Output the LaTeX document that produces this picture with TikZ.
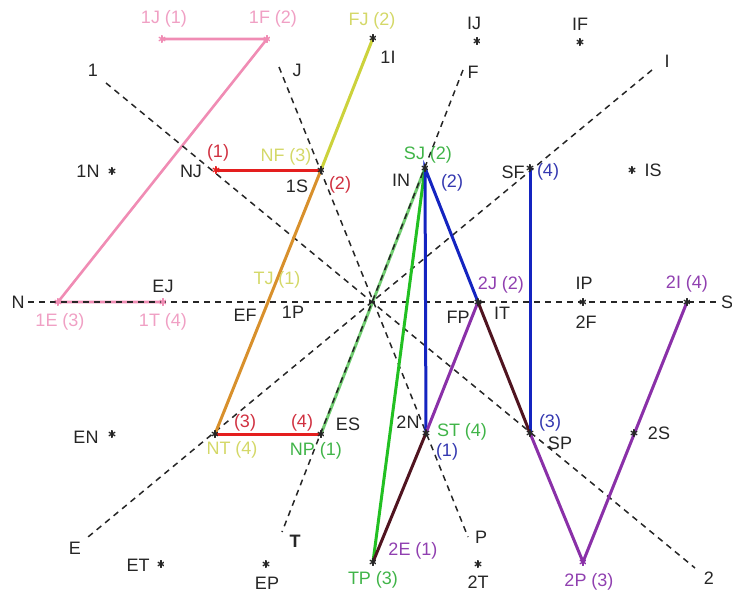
\documentclass[tikz,border=0pt]{standalone}
\usepackage{fontspec}
\setmainfont{Liberation Sans}
\definecolor{cpink}{HTML}{F08CB4}
\definecolor{cpinkt}{HTML}{F0A0C4}
\definecolor{cyel}{HTML}{CCD23C}
\definecolor{cyelt}{HTML}{D4D868}
\definecolor{corange}{HTML}{D8902C}
\definecolor{cred}{HTML}{E41E1E}
\definecolor{credt}{HTML}{D03040}
\definecolor{cgreen}{HTML}{22C022}
\definecolor{cgreenl}{HTML}{70CC70}
\definecolor{cgreent}{HTML}{40B448}
\definecolor{cblue}{HTML}{1424C0}
\definecolor{cbluet}{HTML}{3438B0}
\definecolor{cpurple}{HTML}{8A30A8}
\definecolor{cpurplet}{HTML}{9040B0}
\definecolor{cmaroon}{HTML}{501420}
\begin{document}
\begin{tikzpicture}[x=1pt,y=-1pt,
  guide/.style={draw=black!85, dash pattern=on 6pt off 5pt, line width=1.5pt},
  lbl/.style={font=\fontsize{18}{20}\selectfont, inner sep=0pt, text=black!85},
  pth/.style={line width=3pt},
  ast/.style={circle, inner sep=0pt, minimum size=8pt,
    path picture={\foreach \a in {90,30,150}
      \draw[line width=1.3pt, #1] (path picture bounding box.center) ++(\a:4pt) -- ++(\a+180:8pt);}},
  ast/.default={black!85}]
\useasboundingbox (0,0) rectangle (732,597);
% guide end points
\coordinate (gN) at (28,302);  \coordinate (gS) at (718,302);
\coordinate (g1) at (106,83);  \coordinate (g2) at (695,568);
\coordinate (gJ) at (279,67);  \coordinate (gP) at (468,537);
\coordinate (gF) at (463,70);  \coordinate (gT) at (282,532);
\coordinate (gI) at (652,70);  \coordinate (gE) at (88,537);
% path points
\coordinate (p1J) at (162,39);  \coordinate (p1F) at (267,39);
\coordinate (p1E) at (58,302);  \coordinate (p1T) at (163,302);
\coordinate (pTJ) at (267,302); \coordinate (pFJ) at (373,38);
\coordinate (pNF) at (321,170); \coordinate (pNT) at (215,434);
\coordinate (pNJ) at (216,170); \coordinate (pNP) at (321,434);
\coordinate (pSJ) at (425,168); \coordinate (pTP) at (373,562);
\coordinate (pST) at (426,433); \coordinate (pSP) at (530,433);
\coordinate (pSF) at (530,168); \coordinate (p2J) at (478,302);
\coordinate (p2P) at (583,562); \coordinate (p2I) at (687,302);
% pink path
\draw[pth, cpink, line width=2.6pt] (p1J) -- (p1F) -- (p1E) -- (p1T);
% green on guide
\draw[pth, cgreenl] (pNP) -- (pSJ);
% guides
\draw[guide] (gN) -- (gS);
\draw[guide] (g1) -- (g2);
\draw[guide] (gJ) -- (gP);
\draw[guide] (gF) -- (gT);
\draw[guide] (gI) -- (gE);
% yellow / red
\draw[pth, cyel] (pFJ) -- (pNF);
\draw[pth, corange] (pNF) -- (pNT);
\draw[pth, cred] (pNJ) -- (pNF);
\draw[pth, cred] (pNT) -- (pNP);
% green
\draw[pth, cgreen] (pSJ) -- (pTP);
\draw[pth, cmaroon] (pTP) -- (pST);
% blue
\draw[pth, cblue] (pST) -- (pSJ) -- (p2J);
\draw[pth, cmaroon] (p2J) -- (pSP);
\draw[pth, cblue] (pSP) -- (pSF);
% purple
\draw[pth, cpurple] (pST) -- (p2J);
\draw[pth, cpurple] (pSP) -- (p2P) -- (p2I);
% star markers
\node[ast=cpink] (m1J) at (p1J) {};
\node[ast=cpink] (m1F) at (p1F) {};
\node[ast=cpink] (m1E) at (p1E) {};
\node[ast=cpink] (m1T) at (p1T) {};
\node[ast] (mFJ) at (pFJ) {};
\node[ast] (mNF) at (pNF) {};
\node[ast] (mNT) at (pNT) {};
\node[ast=cred] (mNJ) at (pNJ) {};
\node[ast] (mNP) at (pNP) {};
\node[ast] (mSJ) at (pSJ) {};
\node[ast] (mTP) at (pTP) {};
\node[ast] (mST) at (pST) {};
\node[ast] (mSP) at (pSP) {};
\node[ast] (mSF) at (pSF) {};
\node[ast] (m2J) at (p2J) {};
\node[ast=cpurple] (m2P) at (p2P) {};
\node[ast] (m2I) at (p2I) {};
\node[ast] (s1N) at (112,171) {};
\node[ast] (sIJ) at (477,41) {};
\node[ast] (sIF) at (580,42) {};
\node[ast] (sIS) at (632,170) {};
\node[ast] (sIP) at (583,302) {};
\node[ast] (sEN) at (112,434) {};
\node[ast] (sET) at (161,564) {};
\node[ast] (sEP) at (266,564) {};
\node[ast] (s2T) at (478,564) {};
\node[ast] (s2S) at (634,433) {};
% pink labels
\node[lbl, text=cpinkt] (l1J) at (164,19) {1J (1)};
\node[lbl, text=cpinkt] (l1F) at (273,19) {1F (2)};
\node[lbl, text=cpinkt] (l1E) at (60,322) {1E (3)};
\node[lbl, text=cpinkt] (l1T) at (163,322) {1T (4)};
% yellow labels
\node[lbl, text=cyelt] (lFJ) at (372,21) {FJ (2)};
\node[lbl, text=cyelt] (lNF) at (286,157) {NF (3)};
\node[lbl, text=cyelt] (lTJ) at (277,280) {TJ (1)};
\node[lbl, text=cyelt] (lNT) at (232,450) {NT (4)};
% red labels
\node[lbl, text=credt] (r1) at (218,153) {(1)};
\node[lbl, text=credt] (r2) at (340,185) {(2)};
\node[lbl, text=credt] (r3) at (245,423) {(3)};
\node[lbl, text=credt] (r4) at (302,423) {(4)};
% green labels
\node[lbl, text=cgreent] (lSJ) at (428,155) {SJ (2)};
\node[lbl, text=cgreent] (lNP) at (316,451) {NP (1)};
\node[lbl, text=cgreent] (lST) at (462,432) {ST (4)};
\node[lbl, text=cgreent] (lTP) at (373,580) {TP (3)};
% blue labels
\node[lbl, text=cbluet] (b2) at (452,183) {(2)};
\node[lbl, text=cbluet] (b4) at (548,172) {(4)};
\node[lbl, text=cbluet] (b3) at (550,423) {(3)};
\node[lbl, text=cbluet] (b1) at (447,452) {(1)};
% purple labels
\node[lbl, text=cpurplet] (l2J) at (501,285) {2J (2)};
\node[lbl, text=cpurplet] (l2I) at (687,284) {2I (4)};
\node[lbl, text=cpurplet] (l2P) at (589,582) {2P (3)};
\node[lbl, text=cpurplet] (l2E) at (413,551) {2E (1)};
% black labels
\node[lbl] (t1) at (93,70) {1};
\node[lbl] (tJ) at (297,70) {J};
\node[lbl] (t1I) at (388,57) {1I};
\node[lbl] (tIJ) at (474,23) {IJ};
\node[lbl] (tF) at (473,72) {F};
\node[lbl] (tIF) at (580,24) {IF};
\node[lbl] (tI) at (667,61) {I};
\node[lbl] (t1N) at (88,171) {1N};
\node[lbl] (tNJ) at (191,171) {NJ};
\node[lbl] (t1S) at (297,186) {1S};
\node[lbl] (tIN) at (401,180) {IN};
\node[lbl] (tSF) at (513,172) {SF};
\node[lbl] (tIS) at (653,170) {IS};
\node[lbl] (tN) at (18,302) {N};
\node[lbl] (tEJ) at (163,286) {EJ};
\node[lbl] (tEF) at (245,315) {EF};
\node[lbl] (t1P) at (293,312) {1P};
\node[lbl] (tFP) at (458,317) {FP};
\node[lbl] (tIT) at (502,313) {IT};
\node[lbl] (tIP) at (584,283) {IP};
\node[lbl] (tS) at (727,302) {S};
\node[lbl] (t2F) at (586,322) {2F};
\node[lbl] (tEN) at (86,437) {EN};
\node[lbl] (tES) at (348,424) {ES};
\node[lbl] (t2N) at (408,422) {2N};
\node[lbl] (tSP) at (560,443) {SP};
\node[lbl] (t2S) at (659,433) {2S};
\node[lbl] (tE) at (75,548) {E};
\node[lbl] (tET) at (138,565) {ET};
\node[lbl] (tT) at (295,541) {\textbf{T}};
\node[lbl] (tEP) at (267,583) {EP};
\node[lbl] (tP) at (481,537) {P};
\node[lbl] (t2T) at (478,582) {2T};
\node[lbl] (t2) at (709,578) {2};
\end{tikzpicture}
\end{document}
